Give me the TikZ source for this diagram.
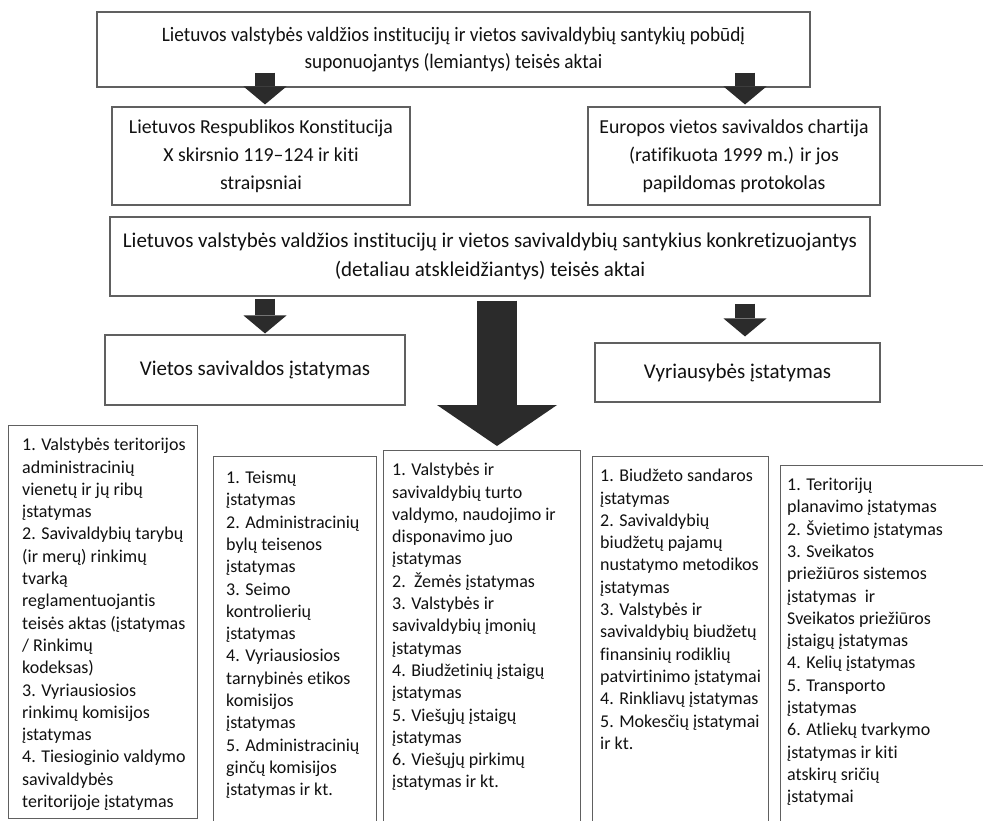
\documentclass[tikz,border=0pt]{standalone}
\usepackage{fontspec}
\setmainfont{Carlito}[Ligatures=NoCommon]
\newfontfamily\topfont{Carlito}[Ligatures=NoCommon, FakeStretch=0.94]
\usetikzlibrary{arrows.meta, positioning, calc}
\definecolor{boxink}{HTML}{606060}
\definecolor{arrowink}{HTML}{2B2B2B}
\definecolor{textink}{HTML}{111111}

\tikzset{
  upbox/.style={draw=boxink, line width=1.1pt, fill=white, inner sep=0pt,
    align=center, text=textink, font=\fontsize{21}{29}\selectfont},
  listbox/.style={draw=boxink, line width=1.1pt, inner sep=0pt, anchor=north west},
  listtext/.style={inner sep=0pt, align=left, anchor=north west, text=textink,
    font=\fontsize{18}{22.3}\selectfont},
  smallarrow/.style={draw=arrowink, line width=20pt,
    -{Triangle[width=43pt, length=18pt, line width=0pt]}},
  bigarrow/.style={draw=arrowink, line width=40pt,
    -{Triangle[width=120pt, length=41pt, line width=0pt]}}
}

\begin{document}
\begin{tikzpicture}[x=1pt, y=-1pt]
  \useasboundingbox[fill=white] (0,0) rectangle (983,820);

  % upper part
  \node[upbox, minimum width=713pt, minimum height=75pt,
    font=\topfont\fontsize{20.5}{27}\selectfont] (top) at (453.5,49.5)
    {Lietuvos valstybės valdžios institucijų ir vietos savivaldybių santykių pobūdį\\
     suponuojantys (lemiantys) teisės aktai};
  \node[upbox, minimum width=298pt, minimum height=98pt,
    font=\fontsize{19.8}{28}\selectfont] (konst) at (261,156)
    {Lietuvos Respublikos Konstitucija\\X skirsnio 119–124 ir kiti\\straipsniai};
  \node[upbox, minimum width=292pt, minimum height=98pt,
    font=\fontsize{19.8}{28}\selectfont] (chart) at (734,156)
    {Europos vietos savivaldos chartija\\(ratifikuota 1999 m.) ir jos\\papildomas protokolas};
  \node[upbox, minimum width=760pt, minimum height=79pt] (conc) at (490,256.5)
    {Lietuvos valstybės valdžios institucijų ir vietos savivaldybių santykius konkretizuojantys\\
     (detaliau atskleidžiantys) teisės aktai};
  \node[upbox, minimum width=300pt, minimum height=70pt] (vsl) at (255,370)
    {Vietos savivaldos įstatymas};
  \node[upbox, minimum width=285pt, minimum height=59pt] (gov) at (737.5,372.5)
    {Vyriausybės įstatymas};

  \coordinate (ax1) at (265,0);
  \coordinate (ax2) at (745,0);
  \coordinate (ax3) at (497,0);

  % lists
  \node[listbox, minimum width=189pt, minimum height=393pt] (c1) at (8,425) {};
  \node[listbox, minimum width=163pt, minimum height=400pt] (c2) at (213,456) {};
  \node[listbox, minimum width=197pt, minimum height=400pt] (c3) at (383,450) {};
  \node[listbox, minimum width=176pt, minimum height=400pt] (c4) at (592,456) {};
  \node[listbox, minimum width=230pt, minimum height=400pt] (c5) at (780,465) {};

  \node[listtext] (t1) at ([xshift=14pt, yshift=-13pt]c1.north west)
    {1. Valstybės teritorijos\\administracinių\\vienetų ir jų ribų\\įstatymas\\
     2. Savivaldybių tarybų\\(ir merų) rinkimų\\tvarką\\reglamentuojantis\\
     teisės aktas (įstatymas\\/ Rinkimų\\kodeksas)\\3. Vyriausiosios\\
     rinkimų komisijos\\įstatymas\\4. Tiesioginio valdymo\\savivaldybės\\
     teritorijoje įstatymas};
  \node[listtext] (t2) at ([xshift=13pt, yshift=-15pt]c2.north west)
    {1. Teismų\\įstatymas\\2. Administracinių\\bylų teisenos\\įstatymas\\
     3. Seimo\\kontrolierių\\įstatymas\\4. Vyriausiosios\\tarnybinės etikos\\
     komisijos\\įstatymas\\5. Administracinių\\ginčų komisijos\\įstatymas ir kt.};
  \node[listtext] (t3) at ([xshift=9pt, yshift=-13pt]c3.north west)
    {1. Valstybės ir\\savivaldybių turto\\valdymo, naudojimo ir\\disponavimo juo\\
     įstatymas\\2.\ \ Žemės įstatymas\\3. Valstybės ir\\savivaldybių įmonių\\
     įstatymas\\4. Biudžetinių įstaigų\\įstatymas\\5. Viešųjų įstaigų\\
     įstatymas\\6. Viešųjų pirkimų\\įstatymas ir kt.};
  \node[listtext] (t4) at ([xshift=8pt, yshift=-13pt]c4.north west)
    {1. Biudžeto sandaros\\įstatymas\\2. Savivaldybių\\biudžetų pajamų\\
     nustatymo metodikos\\įstatymas\\3. Valstybės ir\\savivaldybių biudžetų\\
     finansinių rodiklių\\patvirtinimo įstatymai\\4. Rinkliavų įstatymas\\
     5. Mokesčių įstatymai\\ir kt.};
  \node[listtext] (t5) at ([xshift=7pt, yshift=-13pt]c5.north west)
    {1. Teritorijų\\planavimo įstatymas\\2. Švietimo įstatymas\\3. Sveikatos\\
     priežiūros sistemos\\įstatymas\ \ ir\\Sveikatos priežiūros\\
     įstaigų įstatymas\\4. Kelių įstatymas\\5. Transporto\\įstatymas\\
     6. Atliekų tvarkymo\\įstatymas ir kiti\\atskirų sričių\\įstatymai};

  % block arrows
  \draw[smallarrow] ([yshift=15pt]top.south -| ax1) -- ([yshift=2pt]konst.north -| ax1);
  \draw[smallarrow] ([yshift=15pt]top.south -| ax2) -- ([yshift=2pt]chart.north -| ax2);
  \draw[smallarrow] ([yshift=-2pt]conc.south -| ax1) -- ([yshift=1pt]vsl.north -| ax1);
  \draw[smallarrow] ([yshift=-7pt]conc.south -| ax2) -- ([yshift=6pt]gov.north -| ax2);
  \draw[bigarrow] ([yshift=-4pt]conc.south -| ax3) -- ([yshift=4pt]c3.north -| ax3);
\end{tikzpicture}
\end{document}
